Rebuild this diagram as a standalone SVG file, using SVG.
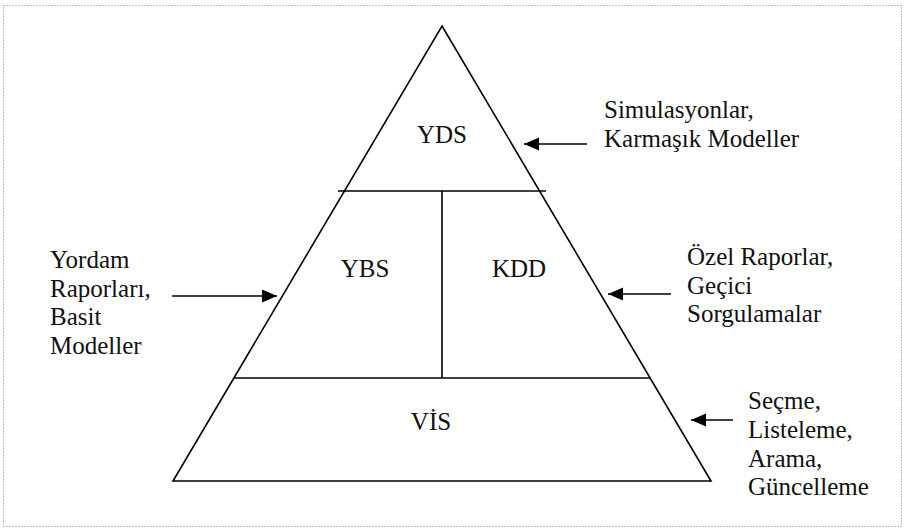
<svg xmlns="http://www.w3.org/2000/svg" width="904" height="529" viewBox="0 0 904 529">
  <style>
    .frame { fill: none; stroke: #808080; stroke-width: 1; stroke-dasharray: 1 2; }
    .ln { fill: none; stroke: #000; stroke-width: 1.6; }
    .arr { fill: none; stroke: #000; stroke-width: 1.6; marker-end: url(#head); }
    text { font-family: "Liberation Serif", "Times New Roman", serif; font-size: 25px; fill: #111; }
    .c { text-anchor: middle; }
  </style>
  <defs>
    <marker id="head" markerUnits="userSpaceOnUse" markerWidth="16" markerHeight="14" refX="15" refY="6.5" orient="auto">
      <path d="M0,0 L15,6.5 L0,13 z" fill="#000"/>
    </marker>
  </defs>

  <rect class="frame" x="3.5" y="5.5" width="898" height="521"/>

  <!-- pyramid outline and inner dividers -->
  <g id="pyramid">
    <path class="ln" d="M442,26 L711,481 L173,481 Z"/>
    <line class="ln" x1="338" y1="191" x2="546" y2="191"/>
    <line class="ln" x1="442" y1="191" x2="442" y2="378"/>
    <line class="ln" x1="234" y1="378" x2="650" y2="378"/>
  </g>

  <g id="yds"><text class="c" x="442" y="143">YDS</text></g>
  <g id="ybs"><text class="c" x="365" y="277">YBS</text></g>
  <g id="kdd"><text class="c" x="519" y="277">KDD</text></g>
  <g id="vis"><text class="c" x="431" y="430">VİS</text></g>

  <g id="note-yds">
    <text x="604" y="118">Simulasyonlar,</text>
    <text x="604" y="147">Karmaşık Modeller</text>
  </g>
  <g id="note-ybs">
    <text x="50" y="268">Yordam</text>
    <text x="50" y="297">Raporları,</text>
    <text x="50" y="325">Basit</text>
    <text x="50" y="354">Modeller</text>
  </g>
  <g id="note-kdd">
    <text x="687" y="265">Özel Raporlar,</text>
    <text x="687" y="294">Geçici</text>
    <text x="687" y="322">Sorgulamalar</text>
  </g>
  <g id="note-vis">
    <text x="748" y="409">Seçme,</text>
    <text x="748" y="438">Listeleme,</text>
    <text x="748" y="467">Arama,</text>
    <text x="748" y="495">Güncelleme</text>
  </g>

  <g id="connectors">
    <line class="arr" x1="587" y1="144" x2="524" y2="144"/>
    <line class="arr" x1="172" y1="296" x2="277" y2="296"/>
    <line class="arr" x1="671" y1="294" x2="608" y2="294"/>
    <line class="arr" x1="733" y1="420" x2="691" y2="420"/>
  </g>
</svg>
